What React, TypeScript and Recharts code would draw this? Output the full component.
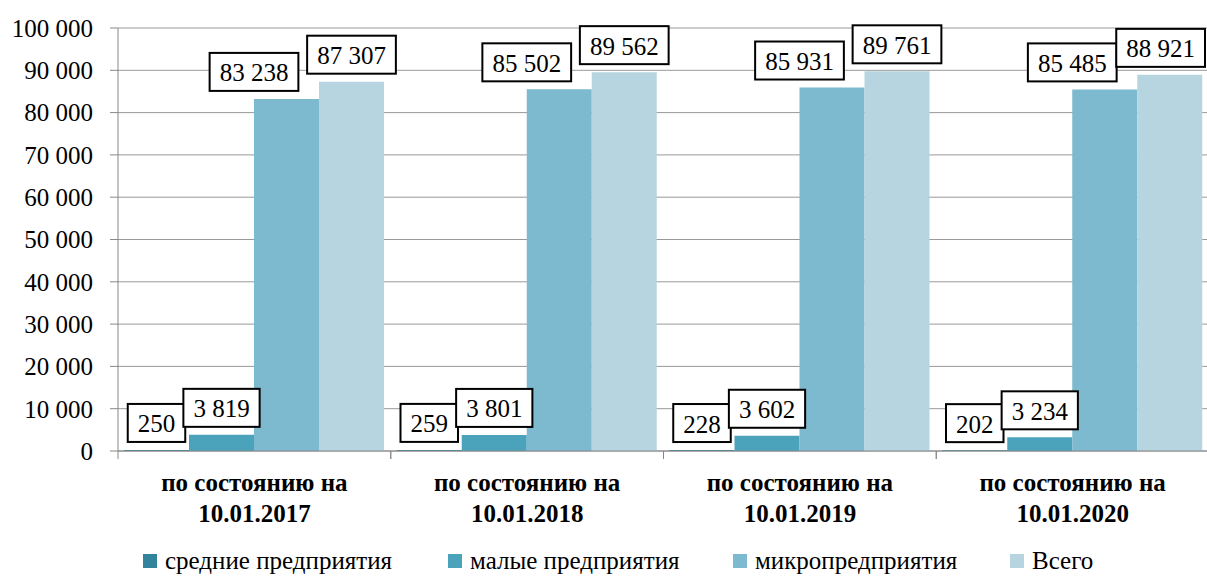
import React from "react"
import { BarChart, Bar, XAxis, YAxis, CartesianGrid, Legend, LabelList } from "recharts"

const dates = ["10.01.2017", "10.01.2018", "10.01.2019", "10.01.2020"]
const medium = [250, 259, 228, 202]
const small = [3819, 3801, 3602, 3234]
const micro = [83238, 85502, 85931, 85485]
const total = [87307, 89562, 89761, 88921]
const yTicks = [0, 10000, 20000, 30000, 40000, 50000, 60000, 70000, 80000, 90000, 100000]

const series = [
  { key: "medium", name: "средние предприятия", color: "#31849B", shift: 0, legendX: 143 },
  { key: "small", name: "малые предприятия", color: "#4BA3BB", shift: 0, legendX: 448 },
  { key: "micro", name: "микропредприятия", color: "#7DB9CF", shift: -0.5, legendX: 733 },
  { key: "total", name: "Всего", color: "#B6D5E0", shift: 0, legendX: 1010 },
]

const data = dates.map((d, i) => ({
  name: d,
  medium: medium[i],
  small: small[i],
  micro: micro[i],
  total: total[i],
}))

const FONT = "serif"
const FS = 25

const fmt = (v: number) => String(v).replace(/\B(?=(\d{3})+(?!\d))/g, " ")

const textWidth = (s: string) => {
  let w = 0
  for (const c of s) w += c === " " ? 0.25 : 0.5
  return w * FS
}

function BoxLabel(shift: number) {
  return (props: any) => {
    const { x, y, width, value } = props
    const s = fmt(value)
    const w = textWidth(s) + 20
    const h = 38
    let cx = x + width / 2 + shift * width
    if (cx + w / 2 > 1205) cx = 1205 - w / 2
    const bottom = y - 8
    return (
      <g>
        <rect x={cx - w / 2} y={bottom - h} width={w} height={h} fill="#fff" stroke="#000" strokeWidth={2} />
        <text x={cx} y={bottom - h / 2 + 1} textAnchor="middle" dominantBaseline="central"
          fontFamily={FONT} fontSize={FS} fill="#000">{s}</text>
      </g>
    )
  }
}

function XTick(props: any) {
  const { x, y, payload } = props
  const half = payload.offset || 136
  return (
    <g>
      <line x1={x - half} x2={x - half} y1={y - 8} y2={y} stroke="#888" />
      <line x1={x + half} x2={x + half} y1={y - 8} y2={y} stroke="#888" />
      <text x={x} y={y + 32} textAnchor="middle" fontFamily={FONT} fontSize={FS} fontWeight="bold" fill="#000">
        по состоянию на
      </text>
      <text x={x} y={y + 63} textAnchor="middle" fontFamily={FONT} fontSize={FS} fontWeight="bold" fill="#000">
        {payload.value}
      </text>
    </g>
  )
}

function LegendContent() {
  return (
    <div style={{ position: "relative", fontFamily: FONT, fontSize: FS, color: "#000", height: 40 }}>
      {series.map(s => (
        <div key={s.key} style={{ position: "absolute", left: s.legendX, top: 0, height: 40, display: "flex", alignItems: "center", whiteSpace: "nowrap" }}>
          <span style={{ width: 14, height: 14, background: s.color, display: "inline-block", marginRight: 8 }} />
          <span>{s.name}</span>
        </div>
      ))}
    </div>
  )
}

export default function App() {
  return (
    <div style={{ position: "absolute", left: 0, top: 0, width: 1207, height: 581, overflow: "hidden", background: "#fff", fontFamily: FONT }}>
      <BarChart width={1209} height={581} data={data} margin={{ top: 28, right: 0, left: 0, bottom: 0 }}
        barCategoryGap={6} barGap={0}>
        <CartesianGrid vertical={false} stroke="#999" />
        <XAxis dataKey="name" height={90} tickLine={false} tickSize={8} tickMargin={0}
          axisLine={{ stroke: "#888" }} tick={<XTick />} interval={0} />
        <YAxis width={118} domain={[0, 100000]} ticks={yTicks} tickFormatter={fmt}
          axisLine={{ stroke: "#888" }} tickLine={{ stroke: "#888" }} tickSize={8} tickMargin={17}
          tick={{ fill: "#000", fontFamily: FONT, fontSize: FS }} />
        <Legend verticalAlign="bottom" height={40} wrapperStyle={{ left: 0, width: 1207 }} content={<LegendContent />} />
        {series.map(s => (
          <Bar key={s.key} dataKey={s.key} name={s.name} fill={s.color} isAnimationActive={false}>
            <LabelList dataKey={s.key} content={BoxLabel(s.shift)} />
          </Bar>
        ))}
      </BarChart>
    </div>
  )
}
